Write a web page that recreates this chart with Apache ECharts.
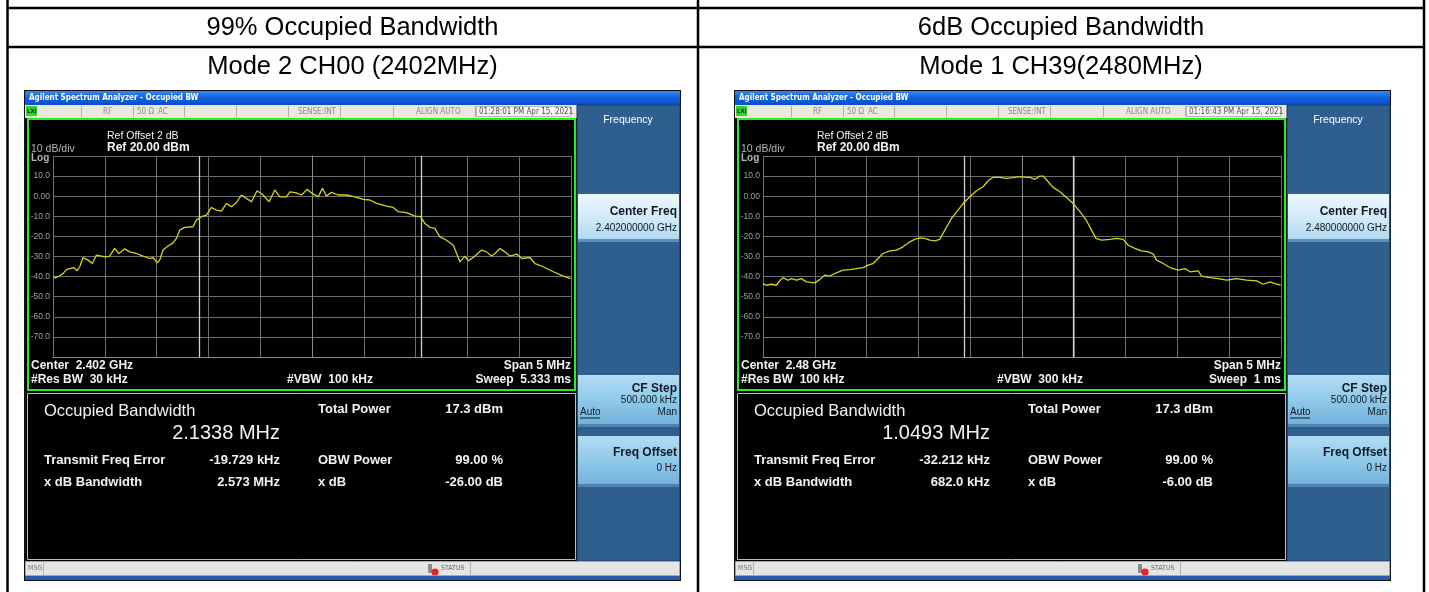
<!DOCTYPE html>
<html>
<head>
<meta charset="utf-8">
<script src="https://cdn.jsdelivr.net/npm/echarts@6/dist/echarts.min.js"></script>
<style>
html,body{margin:0;padding:0;background:#fff;overflow:hidden}
#c{width:1429px;height:592px}
</style>
</head>
<body>
<div id="c"></div>
<script>
// Occupied-bandwidth sweeps: [offset from centre frequency (MHz), level (dBm)]
const traceCh00 = [
  [-2.500,-40.1],[-2.474,-40.6],[-2.436,-39.6],[-2.403,-38.5],[-2.371,-36.5],[-2.339,-36.0],[-2.300,-35.5],
  [-2.268,-37.1],[-2.242,-35.1],[-2.210,-30.5],[-2.162,-31.8],[-2.120,-33.5],[-2.081,-29.3],[-2.033,-29.8],
  [-1.995,-30.2],[-1.953,-29.8],[-1.905,-26.0],[-1.863,-28.5],[-1.808,-26.2],[-1.760,-27.7],[-1.695,-28.5],
  [-1.631,-29.8],[-1.566,-31.0],[-1.534,-30.5],[-1.495,-33.2],[-1.470,-31.8],[-1.438,-26.8],[-1.389,-24.8],
  [-1.341,-23.2],[-1.309,-21.0],[-1.277,-16.9],[-1.228,-15.5],[-1.148,-15.2],[-1.116,-11.9],[-1.067,-10.2],
  [-1.019,-9.4],[-0.971,-5.6],[-0.922,-6.9],[-0.874,-7.4],[-0.826,-3.6],[-0.778,-5.2],[-0.729,-3.1],
  [-0.681,0.6],[-0.633,-1.1],[-0.584,-2.8],[-0.530,2.7],[-0.472,0.6],[-0.414,-2.8],[-0.359,3.1],
  [-0.311,-0.3],[-0.246,-0.3],[-0.214,2.2],[-0.150,1.7],[-0.101,0.6],[-0.047,3.4],[0.002,1.4],
  [0.060,-0.3],[0.101,3.9],[0.140,0.1],[0.188,1.9],[0.253,0.6],[0.333,0.6],[0.414,-0.3],[0.494,-1.6],
  [0.559,-1.9],[0.623,-3.6],[0.720,-4.9],[0.784,-5.6],[0.832,-7.7],[0.913,-8.2],[0.993,-9.9],[1.048,-10.2],
  [1.090,-13.6],[1.138,-15.5],[1.186,-16.0],[1.235,-20.2],[1.299,-21.9],[1.364,-24.4],[1.396,-28.5],
  [1.428,-32.7],[1.476,-29.8],[1.508,-32.2],[1.573,-29.8],[1.637,-26.8],[1.685,-27.7],[1.733,-29.8],
  [1.766,-28.5],[1.814,-26.0],[1.862,-27.7],[1.911,-29.8],[1.975,-28.8],[2.023,-31.0],[2.104,-30.5],
  [2.152,-33.5],[2.233,-35.1],[2.329,-37.6],[2.426,-39.8],[2.497,-41.0]
];
const traceCh39 = [
  [-2.500,-43.5],[-2.468,-44.3],[-2.420,-43.8],[-2.371,-44.3],[-2.339,-42.1],[-2.307,-40.5],[-2.258,-41.8],
  [-2.226,-41.0],[-2.178,-41.8],[-2.130,-41.0],[-2.081,-42.6],[-2.001,-43.1],[-1.953,-41.5],[-1.905,-39.3],
  [-1.856,-39.8],[-1.792,-38.1],[-1.727,-36.8],[-1.663,-36.5],[-1.599,-36.0],[-1.534,-35.5],[-1.486,-34.3],
  [-1.438,-33.5],[-1.389,-31.0],[-1.341,-28.5],[-1.277,-27.2],[-1.212,-26.8],[-1.148,-25.2],[-1.083,-22.7],
  [-1.035,-21.5],[-0.987,-20.7],[-0.939,-21.0],[-0.890,-21.9],[-0.842,-22.2],[-0.794,-21.5],[-0.745,-16.9],
  [-0.681,-11.1],[-0.617,-6.9],[-0.568,-3.6],[-0.504,-0.3],[-0.439,2.7],[-0.375,4.7],[-0.327,7.7],
  [-0.278,9.4],[-0.214,9.4],[-0.150,8.9],[-0.085,9.2],[-0.021,9.7],[0.044,9.4],[0.076,9.4],[0.124,8.4],
  [0.172,10.0],[0.205,10.0],[0.253,7.2],[0.301,4.4],[0.366,2.2],[0.430,-0.6],[0.494,-3.6],[0.559,-7.7],
  [0.623,-12.2],[0.671,-16.9],[0.713,-21.0],[0.768,-21.9],[0.848,-21.5],[0.913,-21.0],[0.977,-21.5],
  [1.025,-24.4],[1.090,-26.0],[1.154,-27.2],[1.219,-27.7],[1.267,-28.8],[1.299,-31.8],[1.364,-33.5],
  [1.428,-35.5],[1.508,-36.8],[1.573,-36.0],[1.621,-37.6],[1.701,-37.1],[1.733,-39.8],[1.814,-40.5],
  [1.894,-41.0],[1.975,-41.8],[2.071,-41.0],[2.168,-41.8],[2.265,-42.1],[2.329,-43.8],[2.394,-42.6],
  [2.442,-43.5],[2.497,-44.3]
];

// Level axis: 10 dB/div from a 20 dBm reference
const levelTicks = [10, 0, -10, -20, -30, -40, -50, -60, -70];
const levelTickLabels = ['10.0', '0.00', '-10.0', '-20.0', '-30.0', '-40.0', '-50.0', '-60.0', '-70.0'];

// Per-measurement settings and results (left, right)
const headings = ['99% Occupied Bandwidth', '6dB Occupied Bandwidth'];
const captions = ['Mode 2 CH00 (2402MHz)', 'Mode 1 CH39(2480MHz)'];
const timestamps = ['01:28:01 PM Apr 15, 2021', '01:16:43 PM Apr 15, 2021'];
const centerFreqs = ['2.402 GHz', '2.48 GHz'];
const centerFreqSoftkey = ['2.402000000 GHz', '2.480000000 GHz'];
const resBW = ['30 kHz', '100 kHz'];
const videoBW = ['100 kHz', '300 kHz'];
const sweepTimes = ['5.333 ms', '1 ms'];
const occupiedBW = [2.1338, 1.0493];      // MHz
const freqError = [-19.729, -32.212];     // kHz
const xdbBandwidth = ['2.573 MHz', '682.0 kHz'];
const totalPower = ['17.3 dBm', '17.3 dBm'];
const obwPower = ['99.00 %', '99.00 %'];
const xdB = ['-26.00 dB', '-6.00 dB'];

const panelX = [0, 710];   // horizontal offset of each analyzer window
const traces = [traceCh00, traceCh39];

const FONT = '"Liberation Sans", Arial, Helvetica, sans-serif';
const NARROW = '"Liberation Sans Narrow", "DejaVu Sans Condensed", "Liberation Sans", sans-serif';

function grad(stops) {
  return new echarts.graphic.LinearGradient(0, 0, 0, 1,
    stops.map((c, k) => ({ offset: k / (stops.length - 1), color: c })));
}
function txt(x, y, s, size, o) {
  o = o || {};
  const align = o.align || 'left';
  return {
    type: 'text', z: o.z || 20, silent: true,
    style: {
      text: s, x: x, y: y, fill: o.color || '#f2f2f2',
      font: (o.weight || 'normal') + ' ' + size + 'px ' + (o.family || FONT),
      align: align, textAlign: align, verticalAlign: 'middle', textVerticalAlign: 'middle'
    }
  };
}
function rect(x, y, w, h, fill, z, stroke, lw) {
  return {
    type: 'rect', z: z || 1, silent: true,
    shape: { x: x, y: y, width: w, height: h },
    style: { fill: fill || 'none', stroke: stroke || 'none', lineWidth: lw || 0 }
  };
}
function seg(x1, y1, x2, y2, color, lw, z) {
  return {
    type: 'line', z: z || 2, silent: true,
    shape: { x1: x1, y1: y1, x2: x2, y2: y2 },
    style: { stroke: color, lineWidth: lw || 1 }
  };
}
function circ(cx, cy, r, fill, z) {
  return { type: 'circle', z: z || 3, silent: true, shape: { cx: cx, cy: cy, r: r }, style: { fill: fill } };
}

function analyzerWindow(i) {
  const o = panelX[i];
  const X = v => v + o;
  const e = [];
  // window frame and title bar
  e.push(rect(X(24), 90, 657, 491, '#101010', 0));
  e.push(rect(X(25), 91, 655, 14, grad(['#3a86f2', '#1060e0', '#0a4cc8']), 1));
  e.push(txt(X(29), 98, 'Agilent Spectrum Analyzer - Occupied BW', 8, { weight: 'bold', family: NARROW, color: '#ffffff' }));
  // instrument status row
  e.push(rect(X(25), 105, 552, 13, '#ebe8de', 1));
  [81, 133, 184, 236, 288, 340, 393, 475].forEach(s => e.push(seg(X(s) + 0.5, 106, X(s) + 0.5, 117, '#b2afa6', 1)));
  e.push(rect(X(26), 106, 11, 10, '#36d036', 2));
  e.push(txt(X(27), 111, 'LXI', 6, { weight: 'bold', family: NARROW, color: '#0a3a0a' }));
  e.push(txt(X(103), 111.5, 'RF', 8, { family: NARROW, color: '#8c8c8c' }));
  e.push(txt(X(137), 111.5, '50 Ω', 8, { family: NARROW, color: '#8c8c8c' }));
  e.push(txt(X(158), 111.5, 'AC', 8, { family: NARROW, color: '#8c8c8c' }));
  e.push(txt(X(298), 111.5, 'SENSE:INT', 8, { family: NARROW, color: '#8c8c8c' }));
  e.push(txt(X(416), 111.5, 'ALIGN AUTO', 8, { family: NARROW, color: '#8c8c8c' }));
  e.push(rect(X(476.5), 106.5, 94, 10, '#f8f8f6', 2, '#b8b8b8', 1));
  e.push(txt(X(479), 111.5, timestamps[i], 8, { family: NARROW, color: '#505050' }));

  // display and measurement area
  e.push(rect(X(26), 118, 551, 443, '#000000', 1));
  e.push(rect(X(28), 119, 547, 271, 'none', 3, '#2ee82e', 2));
  e.push(rect(X(27.5), 393.5, 548, 166, '#000000', 2, '#bdbdbd', 1));

  // graph annotations
  e.push(txt(X(107), 136, 'Ref Offset 2 dB', 10.5));
  e.push(txt(X(31), 149, '10 dB/div', 10.5, { color: '#b4b4b4' }));
  e.push(txt(X(107), 148, 'Ref 20.00 dBm', 12, { weight: 'bold' }));
  e.push(txt(X(31), 158, 'Log', 10, { weight: 'bold', color: '#b4b4b4' }));
  e.push(txt(X(31), 366, 'Center  ' + centerFreqs[i], 12, { weight: 'bold' }));
  e.push(txt(X(31), 380, '#Res BW  ' + resBW[i], 12, { weight: 'bold' }));
  e.push(txt(X(330), 380, '#VBW  ' + videoBW[i], 12, { weight: 'bold', align: 'center' }));
  e.push(txt(X(571), 366, 'Span 5 MHz', 12, { weight: 'bold', align: 'right' }));
  e.push(txt(X(571), 380, 'Sweep  ' + sweepTimes[i], 12, { weight: 'bold', align: 'right' }));

  // measurement results
  e.push(txt(X(44), 411, 'Occupied Bandwidth', 16.5));
  e.push(txt(X(280), 433, occupiedBW[i].toFixed(4) + ' MHz', 20, { align: 'right' }));
  e.push(txt(X(318), 409, 'Total Power', 13, { weight: 'bold' }));
  e.push(txt(X(503), 409, totalPower[i], 13, { weight: 'bold', align: 'right' }));
  e.push(txt(X(44), 460, 'Transmit Freq Error', 13, { weight: 'bold' }));
  e.push(txt(X(280), 460, freqError[i].toFixed(3) + ' kHz', 13, { weight: 'bold', align: 'right' }));
  e.push(txt(X(318), 460, 'OBW Power', 13, { weight: 'bold' }));
  e.push(txt(X(503), 460, obwPower[i], 13, { weight: 'bold', align: 'right' }));
  e.push(txt(X(44), 482, 'x dB Bandwidth', 13, { weight: 'bold' }));
  e.push(txt(X(280), 482, xdbBandwidth[i], 13, { weight: 'bold', align: 'right' }));
  e.push(txt(X(318), 482, 'x dB', 13, { weight: 'bold' }));
  e.push(txt(X(503), 482, xdB[i], 13, { weight: 'bold', align: 'right' }));

  // softkey menu
  e.push(rect(X(577), 105, 103, 456, '#2f5f8f', 1, '#1c3d60', 1));
  e.push(txt(X(628), 120, 'Frequency', 10.5, { align: 'center', color: '#ffffff' }));
  const keyDark = '#0d1a26';
  e.push(rect(X(578), 194, 101, 48, grad(['#eef7fd', '#d2eaf7', '#acd5ee']), 2));
  e.push(rect(X(578), 239, 101, 3, '#5f8fb5', 3));
  e.push(txt(X(677), 212, 'Center Freq', 12, { weight: 'bold', align: 'right', color: keyDark }));
  e.push(txt(X(677), 228, centerFreqSoftkey[i], 10, { align: 'right', color: keyDark }));
  e.push(rect(X(578), 375, 101, 52, grad(['#b3dcf2', '#8fc8e8', '#6fb1d9']), 2));
  e.push(rect(X(578), 424, 101, 3, '#4f82ad', 3));
  e.push(txt(X(677), 389, 'CF Step', 12, { weight: 'bold', align: 'right', color: keyDark }));
  e.push(txt(X(677), 400.5, '500.000 kHz', 10, { align: 'right', color: keyDark }));
  e.push(txt(X(580), 412, 'Auto', 10, { color: keyDark }));
  e.push(seg(X(580), 418, X(600), 418, keyDark, 1, 4));
  e.push(txt(X(677), 412, 'Man', 10, { align: 'right', color: keyDark }));
  e.push(rect(X(578), 436, 101, 51, grad(['#b3dcf2', '#8fc8e8', '#6fb1d9']), 2));
  e.push(rect(X(578), 484, 101, 3, '#4f82ad', 3));
  e.push(txt(X(677), 453, 'Freq Offset', 12, { weight: 'bold', align: 'right', color: keyDark }));
  e.push(txt(X(677), 468, '0 Hz', 10, { align: 'right', color: keyDark }));

  // message / status bar
  e.push(rect(X(25.5), 561.5, 654, 14, '#e5e5e5', 2, '#a6a6a6', 1));
  e.push(txt(X(28), 568.5, 'MSG', 7, { family: NARROW, color: '#777777' }));
  e.push(seg(X(43.5), 562, X(43.5), 575, '#b0b0b0', 1, 3));
  e.push(rect(X(428), 564, 4, 9, '#8a8a8a', 3));
  e.push(circ(X(435), 572, 3.6, '#e02525', 4));
  e.push(txt(X(441), 568.5, 'STATUS', 7, { family: NARROW, color: '#666666' }));
  e.push(seg(X(470.5), 562, X(470.5), 575, '#b0b0b0', 1, 3));
  e.push(rect(X(25), 576, 655, 4, '#2a5cab', 2));
  return e;
}

// table around the two captures
const tableEls = [
  seg(7.5, 0, 7.5, 592, '#000', 2.5, 5),
  seg(698, 0, 698, 592, '#000', 2.5, 5),
  seg(1424, 0, 1424, 592, '#000', 2.5, 5),
  seg(7, 8, 1425, 8, '#000', 2.5, 5),
  seg(7, 47, 1425, 47, '#000', 2.5, 5),
  txt(352.5, 28, headings[0], 25.5, { color: '#000', align: 'center' }),
  txt(1061, 28, headings[1], 25.5, { color: '#000', align: 'center' }),
  txt(352.5, 67, captions[0], 25.5, { color: '#000', align: 'center' }),
  txt(1061, 67, captions[1], 25.5, { color: '#000', align: 'center' })
];

const grids = [], xAxes = [], yAxes = [], series = [];
panelX.forEach((o, i) => {
  grids.push({ left: 53 + o, top: 156, width: 518, height: 201, show: false, containLabel: false });
  xAxes.push({
    gridIndex: i, type: 'value', min: -2.5, max: 2.5, interval: 0.5, z: 5,
    axisLabel: { show: false }, axisTick: { show: false },
    axisLine: { show: true, onZero: false, lineStyle: { color: '#8c8c8c', width: 1 } },
    splitLine: { show: true, lineStyle: { color: '#6e6e6e', width: 1 } }
  });
  yAxes.push({
    gridIndex: i, type: 'value', min: -80, max: 20, interval: 10, z: 5,
    axisTick: { show: false },
    axisLine: { show: true, lineStyle: { color: '#8c8c8c', width: 1 } },
    splitLine: { show: true, lineStyle: { color: '#6e6e6e', width: 1 } },
    axisLabel: {
      color: '#a0a0a0', fontSize: 8.5, margin: 3, fontFamily: FONT,
      formatter: v => { const k = levelTicks.indexOf(v); return k < 0 ? '' : levelTickLabels[k]; }
    }
  });
  // occupied-bandwidth limits: centred on the measured carrier (freq error), OBW wide
  const fc = freqError[i] / 1000;
  series.push({
    type: 'line', xAxisIndex: i, yAxisIndex: i, data: traces[i],
    symbol: 'none', showSymbol: false, z: 6, animation: false,
    lineStyle: { color: '#d4d41c', width: 1.3 },
    markLine: {
      silent: true, animation: false, symbol: ['none', 'none'], label: { show: false },
      lineStyle: { color: '#d2d2d2', width: 1.3, type: 'solid' },
      data: [{ xAxis: fc - occupiedBW[i] / 2 }, { xAxis: fc + occupiedBW[i] / 2 }]
    }
  });
});

const chart = echarts.init(document.getElementById('c'), null, { renderer: 'canvas' });
chart.setOption({
  backgroundColor: '#ffffff',
  animation: false,
  grid: grids,
  xAxis: xAxes,
  yAxis: yAxes,
  series: series,
  graphic: { elements: tableEls.concat(analyzerWindow(0), analyzerWindow(1)) }
});
</script>
</body>
</html>
